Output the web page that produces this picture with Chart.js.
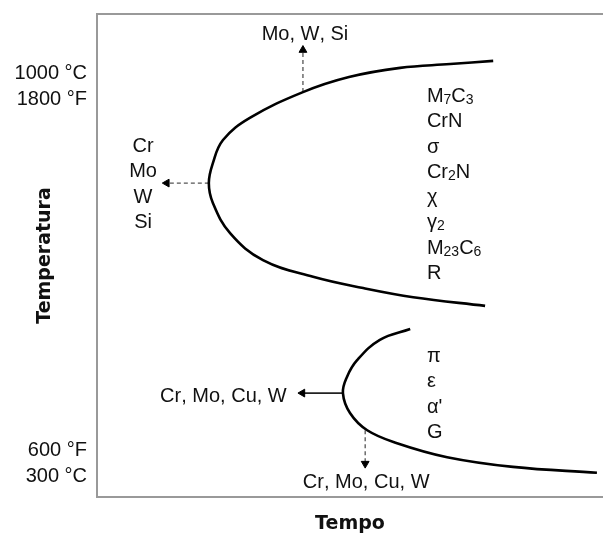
<!DOCTYPE html>
<html><head><meta charset="utf-8">
<script src="https://cdn.jsdelivr.net/npm/chart.js@4.4.1/dist/chart.umd.min.js"></script>
<style>html,body{margin:0;padding:0;background:#fff;overflow:hidden}</style>
</head><body>
<canvas id="c" width="603" height="534"></canvas>
<script>
// ---- data ----
const tempTickValues = [300, 1000];
const tempTickLabels = [["600 °F", "300 °C"], ["1000 °C", "1800 °F"]];

const upperCurveTime = [78.3, 69.8, 59.9, 49.8, 40.7, 30.2, 24.9, 22.9, 22.1, 22.9, 26.3, 32.8, 42.7, 52.6, 62.5, 76.7];
const upperCurveTemp = [1047, 1041, 1034, 1017, 989, 941, 900, 857, 820, 783, 727, 677, 646, 625, 608, 592];

const lowerCurveTime = [61.9, 55.9, 51.4, 49.4, 48.6, 50.0, 53.4, 59.3, 69.2, 82.2, 98.8];
const lowerCurveTemp = [549, 529, 491, 460, 430, 393, 361, 337, 311, 293, 282];

const upperPhases = ["M₇C₃", "CrN", "σ", "Cr₂N", "χ", "γ₂", "M₂₃C₆", "R"];
const lowerPhases = ["π", "ε", "α'", "G"];
const upperTopElements = ["Mo, W, Si"];
const upperLeftElements = ["Cr", "Mo", "W", "Si"];
const lowerLeftElements = ["Cr, Mo, Cu, W"];
const lowerDownElements = ["Cr, Mo, Cu, W"];

// arrows: [from, to] in (time, temperature)
const arrowUpTime = [40.7, 40.7],   arrowUpTemp = [989, 1067];
const arrowLeftTime = [22.1, 13.8], arrowLeftTemp = [820, 820];
const arrowLowLeftTime = [48.6, 40.6], arrowLowLeftTemp = [430, 430];
const arrowDownTime = [53.0, 53.0], arrowDownTemp = [361, 299];

// label anchors (time, temperature)
const labelBlocks = [
  {lines: upperTopElements, x: 41.1, y: 1099, align: 'center'},
  {lines: upperLeftElements, x: 9.1, y: 891, align: 'center'},
  {lines: lowerLeftElements, x: 37.5, y: 427, align: 'right'},
  {lines: lowerDownElements, x: 53.2, y: 267, align: 'center'},
  {lines: upperPhases, x: 65.2, y: 984, align: 'left'},
  {lines: lowerPhases, x: 65.2, y: 501, align: 'left'}
];

// ---- helpers ----
const FONT = '"Liberation Sans", Arial, Helvetica, sans-serif';
const pts = (xs, ys) => xs.map((x, i) => ({x: x, y: ys[i]}));

function drawRich(ctx, text, x, y, align, size) {
  const sub = '₀₁₂₃₄₅₆₇₈₉';
  const parts = [];
  for (const ch of text) {
    const i = sub.indexOf(ch);
    parts.push(i >= 0 ? {t: String(i), s: true} : {t: ch, s: false});
  }
  const fN = size + 'px ' + FONT;
  const fS = Math.round(size * 0.7) + 'px ' + FONT;
  let w = 0;
  parts.forEach(p => { ctx.font = p.s ? fS : fN; p.w = ctx.measureText(p.t).width; w += p.w; });
  let cx = align === 'center' ? x - w / 2 : (align === 'right' ? x - w : x);
  ctx.textAlign = 'left';
  ctx.textBaseline = 'alphabetic';
  const base = y + size * 0.36;
  parts.forEach(p => {
    ctx.font = p.s ? fS : fN;
    ctx.fillText(p.t, cx, p.s ? base + size * 0.1 : base);
    cx += p.w;
  });
}

const labelPlugin = {
  id: 'labels',
  afterDatasetsDraw(chart) {
    const ctx = chart.ctx, xs = chart.scales.x, ys = chart.scales.y;
    ctx.save();
    ctx.fillStyle = '#111';
    labelBlocks.forEach(b => {
      const px = xs.getPixelForValue(b.x), py = ys.getPixelForValue(b.y);
      b.lines.forEach((t, i) => drawRich(ctx, t, px, py + i * 25.3, b.align, 20));
    });
    ctx.restore();
  }
};

function arrow(xs, ys, rot, dashed, color) {
  return {
    data: pts(xs, ys), showLine: true, borderColor: color, borderWidth: dashed ? 1.3 : 1.6,
    borderDash: dashed ? [4, 3] : [], pointStyle: 'triangle', pointRadius: [0, 4.5],
    pointRotation: [0, rot], pointBackgroundColor: '#000', pointBorderColor: '#000',
    pointBorderWidth: 1, tension: 0
  };
}

new Chart(document.getElementById('c'), {
  type: 'scatter',
  data: {
    datasets: [
      {data: pts(upperCurveTime, upperCurveTemp), showLine: true, borderColor: '#000', borderWidth: 2.6, pointRadius: 0, tension: 0.4},
      {data: pts(lowerCurveTime, lowerCurveTemp), showLine: true, borderColor: '#000', borderWidth: 2.6, pointRadius: 0, tension: 0.4},
      arrow(arrowUpTime, arrowUpTemp, 0, true, '#555'),
      arrow(arrowLeftTime, arrowLeftTemp, -90, true, '#555'),
      arrow(arrowLowLeftTime, arrowLowLeftTemp, -90, false, '#222'),
      arrow(arrowDownTime, arrowDownTemp, 180, true, '#555')
    ]
  },
  options: {
    responsive: false, animation: false,
    layout: {autoPadding: false, padding: {top: 14, right: 0, bottom: 0, left: 0}},
    plugins: {legend: {display: false}, tooltip: {enabled: false}},
    scales: {
      x: {
        type: 'linear', min: 0, max: 100, position: 'bottom',
        grid: {display: false, drawTicks: false},
        ticks: {display: false},
        border: {display: true, color: '#999', width: 2},
        title: {display: true, text: 'Tempo', color: '#111',
          font: {family: '"DejaVu Sans", Verdana, sans-serif', size: 19, weight: 'bold', lineHeight: 1.0},
          padding: {top: 0, bottom: 0}},
        afterFit(s) { s.height = 37; s.paddingLeft = 0; s.paddingRight = 0; }
      },
      x2: {
        type: 'linear', min: 0, max: 100, position: 'top',
        grid: {display: false, drawTicks: false},
        ticks: {display: false},
        border: {display: true, color: '#999', width: 2},
        afterFit(s) { s.height = 0; s.paddingLeft = 0; s.paddingRight = 0; }
      },
      y: {
        type: 'linear', min: 237, max: 1134, position: 'left',
        grid: {display: false, drawTicks: false},
        border: {display: true, color: '#999', width: 2},
        afterBuildTicks(s) { s.ticks = tempTickValues.map(v => ({value: v})); },
        ticks: {
          padding: 10, color: '#111',
          font: {family: FONT, size: 20, lineHeight: 1.3},
          callback(v) { const i = tempTickValues.indexOf(v); return i >= 0 ? tempTickLabels[i] : ''; }
        },
        title: {display: true, text: 'Temperatura', color: '#111',
          font: {family: '"DejaVu Sans", Verdana, sans-serif', size: 19, weight: 'bold', lineHeight: 1.2},
          padding: {top: 34, bottom: 0}},
        afterFit(s) { s.width = 97; s.paddingTop = 0; s.paddingBottom = 0; }
      }
    }
  },
  plugins: [labelPlugin]
});
</script>
</body></html>
